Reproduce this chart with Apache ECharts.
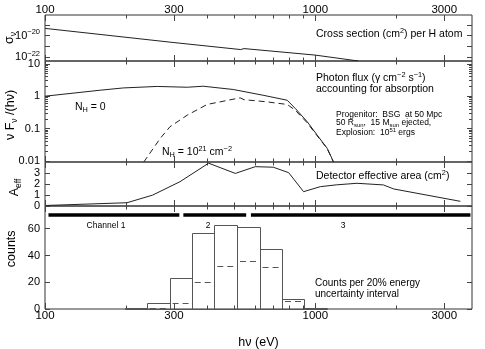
<!DOCTYPE html>
<html>
<head>
<meta charset="utf-8">
<script src="https://cdn.jsdelivr.net/npm/echarts@6/dist/echarts.min.js"></script>
<style>
html, body { margin: 0; padding: 0; background: #fff; }
#chart { width: 485px; height: 349px; }
</style>
</head>
<body>
<div id="chart"></div>
<script>
// energy axis (eV)
const energyTicksMajor = [100, 300, 1000, 3000]
const energyTicksMinor = [200, 400, 500, 600, 700, 800, 900, 2000]

// cross section per H atom (cm^2)
const crossEnergy = [100, 300, 530, 545, 1000, 1440]
const crossSection = [4.7e-20, 2.3e-21, 5.2e-22, 6.4e-22, 1.6e-22, 4.6e-23]

// photon flux, N_H = 0
const fluxEnergy = [100, 160, 195, 260, 336, 385, 497, 641, 787, 843, 934, 1016, 1107, 1167]
const fluxNH0 = [1.0, 1.53, 1.8, 2.0, 1.89, 2.03, 1.61, 1.07, 0.75, 0.42, 0.162, 0.063, 0.0245, 0.0095]

// photon flux, N_H = 1e21
const fluxNH21Energy = [232, 267, 290, 336, 398, 527, 545, 650, 787, 843, 934, 1016, 1107, 1167]
const fluxNH21 = [0.0093, 0.05, 0.114, 0.26, 0.556, 0.89, 0.78, 0.68, 0.556, 0.37, 0.15, 0.06, 0.024, 0.0093]

// detector effective area (cm^2)
const aeffEnergy = [101, 201, 250, 316, 403, 506, 600, 699, 797, 905, 1044, 1200, 1426, 1787, 1950, 3442]
const aeff = [0.05, 0.3, 1.0, 2.24, 3.94, 3.0, 3.62, 3.57, 3.07, 1.32, 1.78, 1.95, 2.09, 1.94, 1.57, 0.43]

// counts per 20% energy interval
const binLow = [198, 238, 289, 349, 423, 513, 622, 753, 912]
const binHigh = [238, 289, 349, 423, 513, 622, 753, 912, 1104]
const countsNH0 = [0.6, 4.5, 23.5, 57, 62.5, 61.5, 44.5, 7.5, 0.6]
const countsNH21 = [0.1, 0.4, 4.5, 20.2, 32, 36.2, 31.5, 5.8, 0.3]

// channels
const channelLow = [103, 325, 578]
const channelHigh = [314, 555, 3750]
const channelNames = ['Channel 1', '2', '3']

const X_MIN = 100
const X_MAX = 3800
const CHANNEL_LEVEL = 70.2
const FONT = 'Liberation Sans, Arial, sans-serif'
const INK = '#222'

const grids = [
  { top: 15, height: 46 },
  { top: 61, height: 101 },
  { top: 162, height: 44 },
  { top: 206, height: 103 }
]

const supRich = {
  n: { fontSize: 11, fontFamily: FONT, color: '#000' },
  sup: { fontSize: 7.5, fontFamily: FONT, color: '#000', padding: [0, 0, 7, 0] }
}
const nameRich = {
  n: { fontSize: 12.5, fontFamily: FONT, color: '#000' },
  sub: { fontSize: 8.5, fontFamily: FONT, color: '#000', padding: [7, 0, 0, 0] }
}

// leading spaces lift a rotated name, trailing spaces lower it
const panels = [
  {
    type: 'log', min: 4.57e-23, max: 8.1e-19,
    major: [1e-22, 1e-21, 1e-20, 1e-19], minor: [],
    labels: [1e-22, 1e-20],
    fmt: v => '{n|10}{sup|−' + Math.round(-Math.log10(v)) + '}',
    name: '{n|σ}{sub|ν}', gap: 27
  },
  {
    type: 'log', min: 0.0093, max: 12.2,
    major: [0.01, 0.1, 1, 10],
    minor: [0.02, 0.03, 0.04, 0.05, 0.06, 0.07, 0.08, 0.09, 0.2, 0.3, 0.4, 0.5, 0.6, 0.7, 0.8, 0.9, 2, 3, 4, 5, 6, 7, 8, 9],
    labels: [0.01, 0.1, 1, 10],
    fmt: v => '{n|' + v + '}',
    name: '{n|ν F}{sub|ν}{n| /(hν)  }', gap: 26
  },
  {
    type: 'value', min: 0, max: 4.05,
    major: [0, 1, 2, 3], minor: [],
    labels: [0, 1, 2, 3],
    fmt: v => '{n|' + v + '}',
    name: '{n|A}{sub|eff}{n|  }', gap: 22
  },
  {
    type: 'value', min: 0, max: 77,
    major: [0, 20, 40, 60], minor: [],
    labels: [0, 20, 40, 60],
    fmt: v => '{n|' + v + '}',
    name: '{n|     counts}', gap: 27
  }
]

const xAxis = []
const yAxis = []
const xIndex = []
const yIndex = []

grids.forEach((g, gi) => {
  xIndex.push(xAxis.length)
  ;['bottom', 'top'].forEach(pos => {
    [[energyTicksMajor, 6], [energyTicksMinor, 3.5]].forEach(([ticks, len], k) => {
      const showLabel = k === 0 && ((gi === 0 && pos === 'top') || (gi === 3 && pos === 'bottom'))
      const ax = {
        type: 'log', logBase: 10, gridIndex: gi, position: pos,
        min: X_MIN, max: X_MAX,
        axisLine: { show: false, onZero: false },
        splitLine: { show: false },
        axisTick: { show: true, inside: true, length: len, customValues: ticks, lineStyle: { color: '#444', width: 1 } },
        axisLabel: {
          show: showLabel, customValues: energyTicksMajor, margin: pos === 'top' ? -1 : 1,
          fontSize: 11.5, fontFamily: FONT, color: '#000',
          formatter: v => String(Math.round(v))
        }
      }
      if (gi === 3 && pos === 'bottom' && k === 0) {
        ax.name = 'hν (eV)'
        ax.nameLocation = 'middle'
        ax.nameGap = 27
        ax.nameMoveOverlap = false
        ax.nameTextStyle = { fontSize: 12.5, fontFamily: FONT, color: '#000' }
      }
      xAxis.push(ax)
    })
  })

  const p = panels[gi]
  yIndex.push(yAxis.length)
  ;['left', 'right'].forEach(pos => {
    [[p.major, 5], [p.minor, 3]].forEach(([ticks, len], k) => {
      if (!ticks.length) return
      const ax = {
        type: p.type, gridIndex: gi, position: pos, min: p.min, max: p.max,
        axisLine: { show: false, onZero: false },
        splitLine: { show: false },
        axisTick: { show: true, inside: true, length: len, customValues: ticks, lineStyle: { color: '#444', width: 1 } },
        axisLabel: {
          show: pos === 'left' && k === 0, customValues: p.labels, margin: 5,
          formatter: p.fmt, rich: supRich
        }
      }
      if (p.type === 'log') ax.logBase = 10
      if (pos === 'left' && k === 0) {
        ax.name = p.name
        ax.nameLocation = 'middle'
        ax.nameRotate = 90
        ax.nameGap = p.gap
        ax.nameMoveOverlap = false
        ax.nameTextStyle = { rich: nameRich }
      }
      yAxis.push(ax)
    })
  })
})

const zip = (xs, ys) => xs.map((x, i) => [x, ys[i]])

const lineSeries = (gi, xs, ys, dashed) => ({
  type: 'line',
  xAxisIndex: xIndex[gi],
  yAxisIndex: yIndex[gi],
  data: zip(xs, ys),
  symbol: 'none',
  silent: true,
  lineStyle: { color: INK, width: 1, type: dashed ? [6, 4] : 'solid' }
})

const histRects = binLow.map((lo, i) => [lo, binHigh[i], countsNH0[i]])
const histDash = binLow.map((lo, i) => [lo, binHigh[i], countsNH21[i]])
const channels = channelLow.map((lo, i) => [lo, channelHigh[i], CHANNEL_LEVEL])

const option = {
  animation: false,
  backgroundColor: '#fff',
  grid: grids.map(g => ({
    left: 45, right: 13, top: g.top, height: g.height,
    show: true, borderColor: '#333', borderWidth: 1, backgroundColor: 'transparent',
    containLabel: false, outerBoundsMode: 'none'
  })),
  xAxis,
  yAxis,
  series: [
    lineSeries(0, crossEnergy, crossSection, false),
    lineSeries(1, fluxEnergy, fluxNH0, false),
    lineSeries(1, fluxNH21Energy, fluxNH21, true),
    lineSeries(2, aeffEnergy, aeff, false),
    {
      type: 'custom',
      xAxisIndex: xIndex[3],
      yAxisIndex: yIndex[3],
      data: histRects,
      encode: { x: [0, 1], y: 2 },
      silent: true,
      renderItem (params, api) {
        const a = api.coord([api.value(0), api.value(2)])
        const b = api.coord([api.value(1), 0])
        return {
          type: 'rect',
          shape: { x: Math.round(a[0]) + 0.5, y: Math.round(a[1]) + 0.5, width: Math.round(b[0]) - Math.round(a[0]), height: Math.round(b[1]) - Math.round(a[1]) },
          style: { fill: 'none', stroke: '#555', lineWidth: 1 }
        }
      }
    },
    {
      type: 'custom',
      xAxisIndex: xIndex[3],
      yAxisIndex: yIndex[3],
      data: histDash,
      encode: { x: [0, 1], y: 2 },
      silent: true,
      renderItem (params, api) {
        const a = api.coord([api.value(0), api.value(2)])
        const b = api.coord([api.value(1), api.value(2)])
        return {
          type: 'line',
          shape: { x1: a[0] + 3, y1: Math.round(a[1]) + 0.5, x2: b[0], y2: Math.round(b[1]) + 0.5 },
          style: { stroke: '#555', lineWidth: 1, lineDash: [6, 4] }
        }
      }
    },
    {
      type: 'custom',
      xAxisIndex: xIndex[3],
      yAxisIndex: yIndex[3],
      data: channels,
      encode: { x: [0, 1], y: 2 },
      silent: true,
      renderItem (params, api) {
        const a = api.coord([api.value(0), api.value(2)])
        const b = api.coord([api.value(1), api.value(2)])
        return {
          type: 'line',
          shape: { x1: a[0], y1: a[1], x2: b[0], y2: b[1] },
          style: { stroke: '#000', lineWidth: 3.5 }
        }
      }
    }
  ],
  graphic: []
}

// annotations
const noteRich = (size) => ({
  n: { fontSize: size, fontFamily: FONT, fill: '#000' },
  sup: { fontSize: size * 0.7, fontFamily: FONT, fill: '#000', padding: [0, 0, size * 0.6, 0] },
  sub: { fontSize: size * 0.7, fontFamily: FONT, fill: '#000', padding: [size * 0.6, 0, 0, 0] }
})
const note = (x, y, text, size, align) => ({
  type: 'text', x, y, silent: true,
  style: { text, rich: noteRich(size), align: align || 'left', verticalAlign: 'middle' }
})

option.graphic = [
  note(316, 34, '{n|Cross section (cm}{sup|2}{n|) per H atom}', 10.5),
  note(316, 78, '{n|Photon flux (γ cm}{sup|−2}{n| s}{sup|−1}{n|)}', 10.5),
  note(316, 89, '{n|accounting for absorption}', 10.5),
  note(75, 107, '{n|N}{sub|H}{n| = 0}', 10.5),
  note(162, 152, '{n|N}{sub|H}{n| = 10}{sup|21}{n| cm}{sup|−2}', 10.5),
  note(336, 115, '{n|Progenitor:  BSG  at 50 Mpc}', 8.5),
  note(336, 123, '{n|50 R}{sub|sun}{n|,  15 M}{sub|sun}{n| ejected,}', 8.5),
  note(336, 133, '{n|Explosion:  10}{sup|51}{n| ergs}', 8.5),
  note(316, 176, '{n|Detector effective area (cm}{sup|2}{n|)}', 10.5),
  note(106, 226, '{n|' + channelNames[0] + '}', 8.5, 'center'),
  note(208, 226, '{n|' + channelNames[1] + '}', 8.5, 'center'),
  note(343, 226, '{n|' + channelNames[2] + '}', 8.5, 'center'),
  note(315, 283, '{n|Counts per 20% energy}', 10),
  note(315, 294, '{n|uncertainty interval}', 10)
]

const myChart = echarts.init(document.getElementById('chart'), null, { renderer: 'canvas' })
myChart.setOption(option)
</script>
</body>
</html>
